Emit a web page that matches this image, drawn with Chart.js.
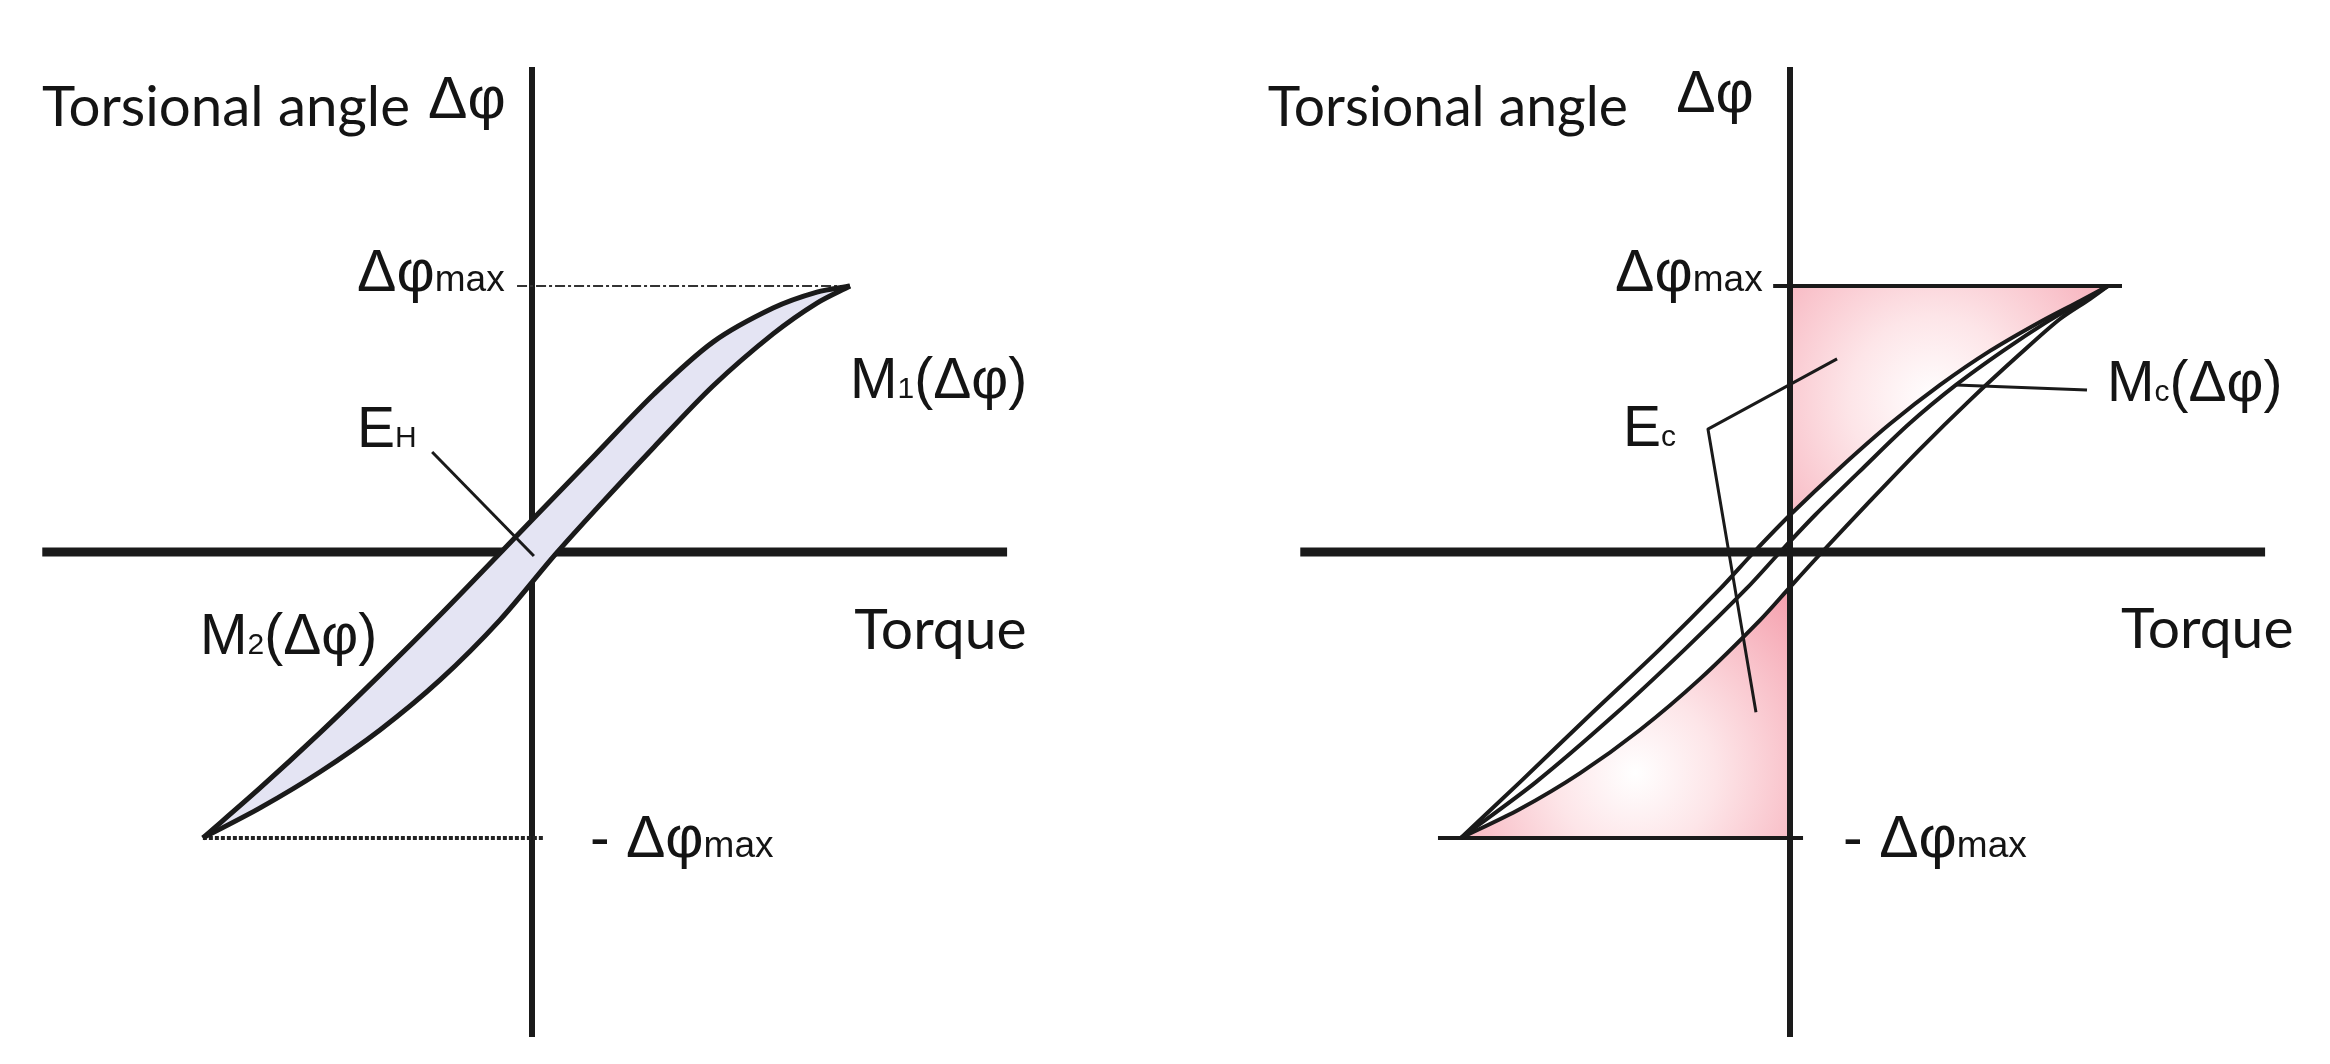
<!DOCTYPE html>
<html lang="en">
<head>
<meta charset="UTF-8">
<title>Torsional angle vs torque - hysteresis loops</title>
<script src="https://cdn.jsdelivr.net/npm/chart.js"></script>
<style>
  body { margin: 0; background: #fff; width: 2330px; height: 1064px; overflow: hidden; position: relative; }
  .panel { position: absolute; top: 0; width: 1072px; height: 1064px; }
  #left { left: 0; }
  #right { left: 1258px; }
</style>
</head>
<body>
<div class="panel" id="left"><canvas id="chartLeft" width="1072" height="1064"></canvas></div>
<div class="panel" id="right"><canvas id="chartRight" width="1072" height="1064"></canvas></div>
<script>
// units: torque in % of max torque, torsional angle in % of Δφmax
const torqueAxis = [-154, 149.4];
const angleAxis = [-182.3, 182.3];

// left diagram: hysteresis loop M1 / M2
const loopUpperT = [-103.5, -85.5, -66.7, -47.8, -28.9, -9.7, 0, 19.5, 38.4, 56.9, 75.8, 89.6, 100];
const loopUpperA = [-107.5, -88.7, -68.0, -46.2, -23.7, 0, 12.0, 36.1, 59.4, 78.9, 91.7, 97.7, 100];
const loopLowerT = [-103.5, -85.5, -66.7, -47.8, -28.9, -10.1, 7.2, 21.4, 38.4, 56.9, 75.8, 89.6, 100];
const loopLowerA = [-107.5, -96.2, -82.7, -66.9, -48.1, -25.6, -1.1, 17.7, 39.5, 62.4, 82.0, 93.6, 100];

// right diagram: upper branch, Mc(Δφ), lower branch
const curveAT = [-103.5, -84.9, -62.9, -40.9, -22.0, -11.3, 0, 15.7, 31.4, 47.2, 62.9, 78.6, 91.2, 100];
const curveAA = [-107.5, -86.5, -61.3, -36.5, -13.9, 0, 13.9, 31.6, 48.1, 62.8, 75.6, 86.5, 94.4, 100];
const curveBT = [-103.5, -79.9, -55.3, -33.0, -13.8, -3.1, 7.9, 23.0, 37.4, 52.2, 67.0, 80.8, 92.1, 100];
const curveBA = [-107.5, -86.5, -61.3, -36.5, -13.9, 0, 13.9, 31.6, 48.1, 62.8, 75.6, 86.5, 94.4, 100];
const curveCT = [-103.5, -84.9, -66.0, -47.2, -28.3, -9.4, 0, 10.1, 25.2, 40.9, 56.6, 72.3, 84.9, 94.3, 100];
const curveCA = [-107.5, -96.6, -83.1, -66.9, -47.7, -25.6, -13.2, 0, 19.2, 38.7, 57.1, 74.4, 87.6, 95.1, 100];

// ±Δφmax reference lines
const maxLineLeftT = [-4.7, 100];
const minLineLeftT = [-103.5, 3.8];
const maxLineRightT = [-5.3, 104.4];
const minLineRightT = [-110.7, 4.1];
const maxAngle = 100;
const minAngle = -107.5;

// leader lines
const leaderEhT = [-31.4, 0.6];
const leaderEhA = [37.6, -1.5];
const leaderMcT = [52.2, 93.4];
const leaderMcA = [62.8, 60.9];
const leaderEcT = [14.8, -25.8, -10.7];
const leaderEcA = [72.6, 46.2, -60.2];

// text
const titleText = 'Torsional angle';
const torqueText = 'Torque';

// layout (pixels inside each panel canvas)
const ORIGIN_X = 532, ORIGIN_Y = 552, PX_T = 3.18, PX_A = 2.66, W = 1072, H = 1064;
const X_MIN = -ORIGIN_X / PX_T, X_MAX = (W - ORIGIN_X) / PX_T;
const Y_MAX = ORIGIN_Y / PX_A, Y_MIN = -(H - ORIGIN_Y) / PX_A;

const INK = '#1a1a1a';
const F_MAIN = '57px "Liberation Sans"';
const F_SUB = '30px "Liberation Sans"';
const F_PHI = '59px "Liberation Sans"';
const F_MAX = '37px "Liberation Sans"';
const F_WORD = '57px Lato';
const F_DELTA = '59px "Liberation Sans"';

const pts = (t, a) => t.map((x, i) => ({x, y: a[i]}));
const hLine = (t, a) => t.map(x => ({x, y: a}));

function ds(data, o) {
  return Object.assign({
    data, borderColor: INK, borderWidth: 4, pointRadius: 0, tension: 0,
    fill: false, backgroundColor: 'transparent', borderCapStyle: 'butt', borderJoinStyle: 'round'
  }, o);
}

function pinkGlow(center, radius) {
  return (c) => {
    const chart = c.chart;
    if (!chart.chartArea) return '#f8c2c9';
    const cx = chart.scales.x.getPixelForValue(center[0]);
    const cy = chart.scales.y.getPixelForValue(center[1]);
    const g = chart.ctx.createRadialGradient(cx, cy, 0, cx, cy, radius);
    g.addColorStop(0, '#ffffff');
    g.addColorStop(0.35, '#fde5e8');
    g.addColorStop(1, '#f5a3b0');
    return g;
  };
}

function textPlugin(labels) {
  return {
    id: 'panelText',
    afterDatasetsDraw(chart) {
      const {ctx, scales: {x, y}} = chart;
      ctx.save();
      ctx.fillStyle = '#141414';
      ctx.textBaseline = 'alphabetic';
      labels.forEach(l => {
        let px = x.getPixelForValue(l.at[0]);
        const py = y.getPixelForValue(l.at[1]);
        l.runs.forEach(([text, font, maxW]) => {
          ctx.font = font;
          let w = ctx.measureText(text).width;
          if (maxW && w > maxW) { ctx.fillText(text, px, py, maxW); w = maxW; }
          else ctx.fillText(text, px, py);
          px += w;
        });
      });
      ctx.restore();
    }
  };
}

function makeChart(id, datasets, labels) {
  return new Chart(document.getElementById(id), {
    type: 'line',
    data: {datasets},
    options: {
      responsive: false, animation: false, devicePixelRatio: 1,
      layout: {padding: 0, autoPadding: false},
      scales: {
        x: {type: 'linear', min: X_MIN, max: X_MAX, display: false},
        y: {type: 'linear', min: Y_MIN, max: Y_MAX, display: false}
      },
      plugins: {legend: {display: false}, tooltip: {enabled: false}},
      events: []
    },
    plugins: [textPlugin(labels)]
  });
}

const axes = [
  ds(hLine(torqueAxis, 0), {borderWidth: 9, order: 6}),
  ds(angleAxis.map(a => ({x: 0, y: a})), {borderWidth: 6, order: 6})
];

// left panel
const loopShape = pts(loopUpperT, loopUpperA).concat(pts(loopLowerT, loopLowerA).reverse());
makeChart('chartLeft', [
  ...axes,
  ds(loopShape, {borderWidth: 0, fill: 'shape', backgroundColor: '#e4e4f3', order: 5}),
  ds(pts(loopUpperT, loopUpperA), {borderWidth: 5, tension: 0.3, order: 3}),
  ds(pts(loopLowerT, loopLowerA), {borderWidth: 5, tension: 0.3, order: 3}),
  ds(hLine(maxLineLeftT, maxAngle), {borderWidth: 2, borderDash: [10, 3, 3, 3], borderColor: '#333', order: 4}),
  ds(hLine(minLineLeftT, minAngle), {borderWidth: 4, borderDash: [4, 2], borderColor: '#222', order: 4}),
  ds(pts(leaderEhT, leaderEhA), {borderWidth: 3, order: 1})
], [
  {at: [-154.1, 160.2], runs: [[titleText, F_WORD, 368]]},
  {at: [-32.7, 163.2], runs: [['Δφ', F_DELTA]]},
  {at: [-55.0, 98.1], runs: [['Δφ', F_PHI], ['max', F_MAX]]},
  {at: [-55.0, 39.5], runs: [['E', F_MAIN], ['H', F_SUB]]},
  {at: [100, 57.9], runs: [['M', F_MAIN], ['1', F_SUB], ['(Δφ)', F_MAIN]]},
  {at: [-104.4, -38.3], runs: [['M', F_MAIN], ['2', F_SUB], ['(Δφ)', F_MAIN]]},
  {at: [101.3, -36.5], runs: [[torqueText, F_WORD]]},
  {at: [18.2, -114.7], runs: [['- ', F_PHI], ['Δφ', F_PHI], ['max', F_MAX]]}
]);

// right panel
const upperPink = [{x: 0, y: maxAngle}].concat(pts(curveAT, curveAA).filter(p => p.x >= 0).reverse());
const lowerPink = pts(curveCT, curveCA).filter(p => p.x <= 0).concat([{x: 0, y: minAngle}]);
makeChart('chartRight', [
  ...axes,
  ds(upperPink, {borderWidth: 0, fill: 'shape', backgroundColor: pinkGlow([45, 57], 240), order: 8}),
  ds(lowerPink, {borderWidth: 0, fill: 'shape', backgroundColor: pinkGlow([-48.7, -83], 230), order: 8}),
  ds(pts(curveAT, curveAA), {borderWidth: 4, tension: 0.3, order: 3}),
  ds(pts(curveBT, curveBA), {borderWidth: 4, tension: 0.3, order: 3}),
  ds(pts(curveCT, curveCA), {borderWidth: 4, tension: 0.3, order: 3}),
  ds(hLine(maxLineRightT, maxAngle), {borderWidth: 4, order: 4}),
  ds(hLine(minLineRightT, minAngle), {borderWidth: 4, order: 4}),
  ds(pts(leaderMcT, leaderMcA), {borderWidth: 3, order: 1}),
  ds(pts(leaderEcT, leaderEcA), {borderWidth: 3, order: 1})
], [
  {at: [-164.2, 160.2], runs: [[titleText, F_WORD, 360]]},
  {at: [-35.8, 165.4], runs: [['Δφ', F_DELTA]]},
  {at: [-55.0, 98.1], runs: [['Δφ', F_PHI], ['max', F_MAX]]},
  {at: [-52.5, 39.8], runs: [['E', F_MAIN], ['c', F_SUB]]},
  {at: [99.7, 56.8], runs: [['M', F_MAIN], ['c', F_SUB], ['(Δφ)', F_MAIN]]},
  {at: [104.1, -36.1], runs: [[torqueText, F_WORD]]},
  {at: [16.7, -114.7], runs: [['- ', F_PHI], ['Δφ', F_PHI], ['max', F_MAX]]}
]);
</script>
</body>
</html>
